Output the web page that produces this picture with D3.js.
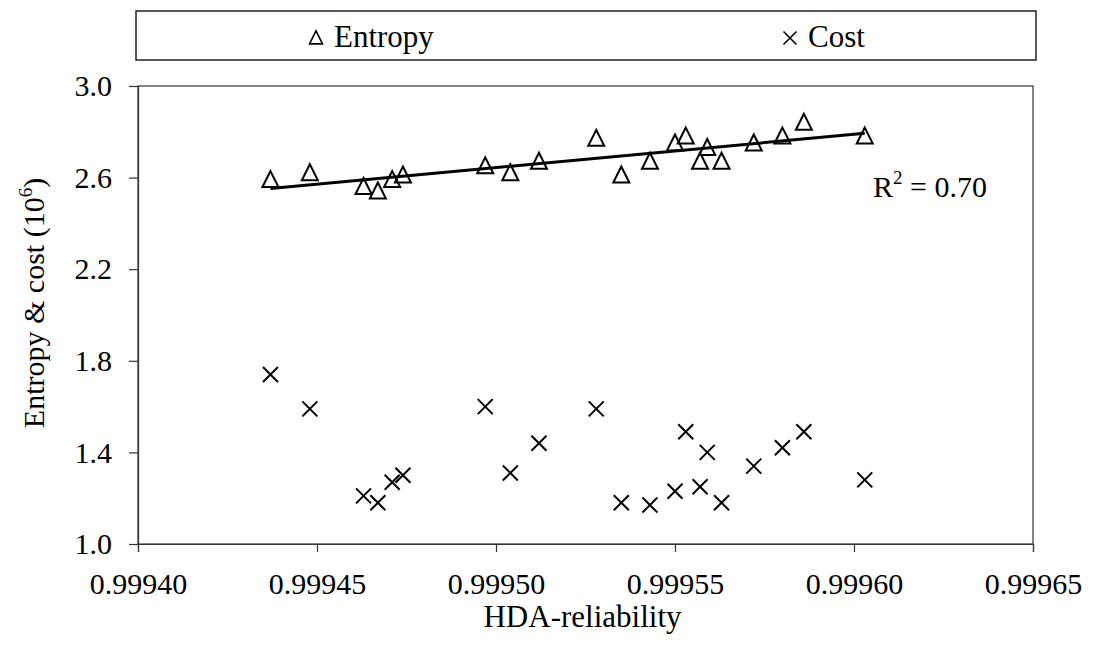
<!DOCTYPE html>
<html>
<head>
<meta charset="utf-8">
<script src="https://cdn.jsdelivr.net/npm/d3@7"></script>
<style>
  body { margin: 0; background: #fff; }
  svg text { font-family: "Liberation Serif", "DejaVu Serif", serif; fill: #000; }
</style>
</head>
<body>
<svg id="chart" width="1097" height="660"></svg>
<script>
// HDA-reliability values (x)
const reliability = [0.999437, 0.999448, 0.999463, 0.999467, 0.999471, 0.999474, 0.999497,
  0.999504, 0.999512, 0.999528, 0.999535, 0.999543, 0.999550, 0.999553, 0.999557,
  0.999559, 0.999563, 0.999572, 0.999580, 0.999586, 0.999603];
const entropy = [2.59, 2.62, 2.56, 2.54, 2.59, 2.61, 2.65, 2.62, 2.67, 2.77, 2.61,
  2.67, 2.75, 2.78, 2.67, 2.73, 2.67, 2.75, 2.78, 2.84, 2.78];
const cost = [1.74, 1.59, 1.21, 1.18, 1.27, 1.30, 1.60, 1.31, 1.44, 1.59, 1.18,
  1.17, 1.23, 1.49, 1.25, 1.40, 1.18, 1.34, 1.42, 1.49, 1.28];
const xTicks = [0.99940, 0.99945, 0.99950, 0.99955, 0.99960, 0.99965];
const yTicks = [1.0, 1.4, 1.8, 2.2, 2.6, 3.0];
const seriesNames = ['Entropy', 'Cost'];
const r2Label = '0.70';

const svg = d3.select('#chart');
const pLeft = 138, pRight = 1033, pTop = 86, pBottom = 544;

const x = d3.scaleLinear().domain([0.99940, 0.99965]).range([pLeft, pRight]);
const y = d3.scaleLinear().domain([1.0, 3.0]).range([pBottom, pTop]);

// plot frame
svg.append('rect')
  .attr('x', pLeft).attr('y', pTop)
  .attr('width', pRight - pLeft).attr('height', pBottom - pTop)
  .attr('fill', 'none').attr('stroke', '#333').attr('stroke-width', 1.2);

// axes
const yAxis = svg.append('g')
  .attr('transform', `translate(${pLeft},0)`)
  .call(d3.axisLeft(y).tickValues(yTicks).tickFormat(d3.format('.1f')).tickSize(9).tickPadding(17));
const xAxis = svg.append('g')
  .attr('transform', `translate(0,${pBottom})`)
  .call(d3.axisBottom(x).tickValues(xTicks).tickFormat(d3.format('.5f')).tickSize(8).tickPadding(21));
[yAxis, xAxis].forEach(g => {
  g.select('.domain').attr('stroke', '#333').attr('stroke-width', 1.2);
  g.selectAll('.tick line').attr('stroke', '#333').attr('stroke-width', 1.2);
  g.selectAll('.tick text').attr('font-size', 30).attr('font-family', '"Liberation Serif", serif');
});

// axis titles
svg.append('text')
  .attr('x', (pLeft + pRight) / 2 - 3).attr('y', 627)
  .attr('text-anchor', 'middle').attr('font-size', 31)
  .text('HDA-reliability');
const yTitle = svg.append('text')
  .attr('transform', 'translate(44,303) rotate(-90)')
  .attr('text-anchor', 'middle').attr('font-size', 30);
yTitle.append('tspan').text('Entropy & cost (10');
yTitle.append('tspan').attr('font-size', 19).attr('dy', -12).text('6');
yTitle.append('tspan').attr('dy', 12).text(')');

// linear trend of entropy
const pts = reliability.map((r, i) => [r, entropy[i]]);
const mx = d3.mean(reliability), my = d3.mean(entropy);
const slope = d3.sum(pts, p => (p[0] - mx) * (p[1] - my)) / d3.sum(pts, p => (p[0] - mx) ** 2);
const icpt = my - slope * mx;
const xr = d3.extent(reliability);
svg.append('line')
  .attr('x1', x(xr[0])).attr('y1', y(icpt + slope * xr[0]))
  .attr('x2', x(xr[1])).attr('y2', y(icpt + slope * xr[1]))
  .attr('stroke', '#000').attr('stroke-width', 3);

// markers
const tri = s => `M0,${-s * 0.55}L${s * 0.5},${s * 0.45}L${-s * 0.5},${s * 0.45}Z`;
const cross = s => `M${-s / 2},${-s / 2}L${s / 2},${s / 2}M${s / 2},${-s / 2}L${-s / 2},${s / 2}`;

svg.append('g').selectAll('path')
  .data(pts)
  .join('path')
  .attr('transform', d => `translate(${x(d[0])},${y(d[1])})`)
  .attr('d', tri(16))
  .attr('fill', 'none').attr('stroke', '#000').attr('stroke-width', 2);

svg.append('g').selectAll('path')
  .data(reliability.map((r, i) => [r, cost[i]]))
  .join('path')
  .attr('transform', d => `translate(${x(d[0])},${y(d[1])})`)
  .attr('d', cross(15))
  .attr('fill', 'none').attr('stroke', '#000').attr('stroke-width', 2);

// R squared label
const r2 = svg.append('text').attr('x', 873).attr('y', 197).attr('font-size', 30);
r2.append('tspan').text('R');
r2.append('tspan').attr('font-size', 19).attr('dy', -13).text('2');
r2.append('tspan').attr('dy', 13).text(' = ' + r2Label);

// legend
svg.append('rect')
  .attr('x', 136).attr('y', 11).attr('width', 900).attr('height', 49)
  .attr('fill', 'none').attr('stroke', '#222').attr('stroke-width', 1.5);
const legendItems = [
  { name: seriesNames[0], sx: 316, tx: 334, shape: tri(13) },
  { name: seriesNames[1], sx: 790, tx: 808, shape: cross(13) }
];
legendItems.forEach(it => {
  svg.append('path')
    .attr('transform', `translate(${it.sx},38)`)
    .attr('d', it.shape)
    .attr('fill', 'none').attr('stroke', '#000').attr('stroke-width', 1.6);
  svg.append('text')
    .attr('x', it.tx).attr('y', 47)
    .attr('font-size', 31)
    .text(it.name);
});
</script>
</body>
</html>
